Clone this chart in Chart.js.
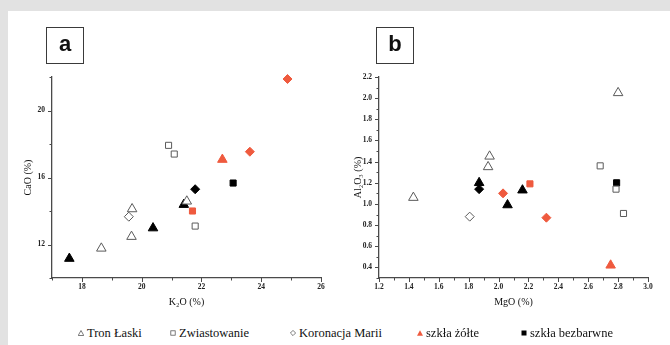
<!DOCTYPE html>
<html lang="pl">
<head>
    <meta charset="UTF-8">
    <title>Skład szkieł: K2O-CaO i MgO-Al2O3</title>
    <script src="https://cdn.jsdelivr.net/npm/chart.js"></script>
    <style>
        body {
            margin: 0;
            width: 670px;
            height: 345px;
            background: #e2e2e2;
            position: relative;
            overflow: hidden;
            font-family: "Liberation Serif", "Times New Roman", serif;
        }
        #sheet {
            position: absolute;
            left: 8px;
            top: 11px;
            right: 0;
            bottom: 0;
            background: #fff;
        }
        .panel { position: absolute; top: 0; height: 300px; }
        #panelA { left: 0; width: 330px; }
        #panelB { left: 327px; width: 335px; }
        .tag {
            position: absolute;
            top: 16px;
            width: 36px;
            height: 35px;
            border: 1.5px solid #3a3a3a;
            font: bold 22px "Liberation Sans", Arial, sans-serif;
            text-align: center;
            line-height: 32px;
            color: #111;
        }
        #legend span.item {
            position: absolute;
            top: 315px;
            font-family: "Liberation Serif", "Times New Roman", serif;
            font-size: 12.5px;
            color: #111;
            white-space: nowrap;
        }
        #legend svg { vertical-align: 1px; margin-right: 3px; }
    </style>
</head>
<body>
    <div id="sheet">
        <div class="panel" id="panelA"><canvas id="chartA" width="330" height="300"></canvas></div>
        <div class="panel" id="panelB"><canvas id="chartB" width="335" height="300"></canvas></div>
        <div class="tag" style="left:38px">a</div>
        <div class="tag" style="left:368px">b</div>
        <div id="legend"></div>
    </div>

    <script>
        // panel a: K2O (x) vs CaO (y), [x, y] pairs
        const tronA = [[18.65, 11.77], [19.66, 12.47], [19.68, 14.12], [21.51, 14.58]];
        const zwiaA = [[20.9, 17.92], [21.09, 17.4], [21.79, 13.1]];
        const koroA = [[19.57, 13.66]];
        const zolteTriA = [[22.7, 17.07]];
        const zolteDiaA = [[24.88, 21.88], [23.62, 17.54]];
        const zolteSqA = [[21.7, 14.0]];
        const bezTriA = [[17.58, 11.16], [20.38, 12.98], [21.41, 14.38]];
        const bezDiaA = [[21.79, 15.3]];
        const bezSqA = [[23.06, 15.67]];

        // panel b: MgO (x) vs Al2O3 (y)
        const tronB = [[1.43, 1.06], [1.93, 1.35], [1.94, 1.45], [2.80, 2.05]];
        const zwiaB = [[2.68, 1.36], [2.786, 1.14], [2.836, 0.91]];
        const koroB = [[1.807, 0.88]];
        const zolteTriB = [[2.75, 0.42]];
        const zolteDiaB = [[2.03, 1.10], [2.32, 0.87]];
        const zolteSqB = [[2.21, 1.19]];
        const bezTriB = [[1.87, 1.20], [2.06, 0.99], [2.16, 1.13]];
        const bezDiaB = [[1.87, 1.14]];
        const bezSqB = [[2.79, 1.20]];

        // tick values
        const k2oTicks = [17, 18, 19, 20, 21, 22, 23, 24, 25, 26];
        const caoTicks = [10, 12, 14, 16, 18, 20, 22];
        const mgoTicks = [1.2, 1.3, 1.4, 1.5, 1.6, 1.7, 1.8, 1.9, 2.0, 2.1, 2.2, 2.3, 2.4, 2.5, 2.6, 2.7, 2.8, 2.9, 3.0];
        const al2o3Ticks = [0.3, 0.4, 0.5, 0.6, 0.7, 0.8, 0.9, 1.0, 1.1, 1.2, 1.3, 1.4, 1.5, 1.6, 1.7, 1.8, 1.9, 2.0, 2.1, 2.2];

        const legendLabels = ['Tron Łaski', 'Zwiastowanie', 'Koronacja Marii', 'szkła żółte', 'szkła bezbarwne'];

        const RED = '#ef5a3e';
        const GREY = '#5a5a5a';

        function open(style) { return { pointStyle: style, backgroundColor: '#fff', borderColor: GREY, borderWidth: 1 }; }
        function filled(style, color) { return { pointStyle: style, backgroundColor: color, borderColor: color, borderWidth: 1 }; }
        const radius = { triangle: 5.5, rect: 4.3, rectRot: 4.5 };

        function buildSets(groups) {
            return groups.map(([pts, look]) => ({
                data: pts.map(([x, y]) => ({ x, y })),
                ...look,
                pointRadius: radius[look.pointStyle],
                showLine: false,
                clip: false
            }));
        }

        // tick marks, long on labelled ticks, short on the rest
        const tickMarks = {
            id: 'tickMarks',
            afterDraw(chart) {
                const ctx = chart.ctx;
                const xs = chart.scales.x, ys = chart.scales.y;
                ctx.save();
                ctx.strokeStyle = '#4a4a4a';
                ctx.lineWidth = 1;
                ctx.beginPath();
                xs.ticks.forEach(t => {
                    const px = Math.round(xs.getPixelForValue(t.value)) + 0.5;
                    const len = t.label !== '' ? 4 : 2.5;
                    ctx.moveTo(px, xs.top); ctx.lineTo(px, xs.top + len);
                });
                ys.ticks.forEach(t => {
                    const py = Math.round(ys.getPixelForValue(t.value)) + 0.5;
                    const len = t.label !== '' ? 4 : 2.5;
                    ctx.moveTo(ys.right, py); ctx.lineTo(ys.right - len, py);
                });
                ctx.stroke();
                ctx.restore();
            }
        };

        function makeChart(id, datasets, xCfg, yCfg, padRight, yTitlePad) {
            const tickFont = { family: '"Liberation Serif", serif', size: 7.5, weight: 'bold' };
            const titleFont = { family: '"Liberation Serif", serif', size: 10 };
            return new Chart(document.getElementById(id), {
                type: 'scatter',
                data: { datasets },
                plugins: [tickMarks],
                options: {
                    responsive: false,
                    animation: false,
                    layout: { padding: { top: 66, right: padRight, left: 0, bottom: 0 } },
                    plugins: { legend: { display: false }, tooltip: { enabled: false } },
                    scales: {
                        x: {
                            type: 'linear',
                            min: xCfg.ticks[0],
                            max: xCfg.ticks[xCfg.ticks.length - 1],
                            afterBuildTicks: s => { s.ticks = xCfg.ticks.map(v => ({ value: v })); },
                            afterFit: s => { s.height = 33; },
                            grid: { display: true, drawOnChartArea: false, drawTicks: false },
                            border: { display: true, color: '#4a4a4a', width: 1.3 },
                            ticks: {
                                autoSkip: false, maxRotation: 0, padding: 5, color: '#222', font: tickFont,
                                callback: xCfg.label
                            },
                            title: { display: true, text: xCfg.title, color: '#111', font: titleFont, padding: { top: 0, bottom: 3 } }
                        },
                        y: {
                            type: 'linear',
                            min: yCfg.ticks[0],
                            max: yCfg.ticks[yCfg.ticks.length - 1],
                            afterBuildTicks: s => { s.ticks = yCfg.ticks.map(v => ({ value: v })); },
                            afterFit: s => { s.width = 44; },
                            grid: { display: true, drawOnChartArea: false, drawTicks: false },
                            border: { display: true, color: '#4a4a4a', width: 1.3 },
                            ticks: {
                                autoSkip: false, padding: 7, color: '#222', font: tickFont,
                                callback: yCfg.label
                            },
                            title: { display: true, text: yCfg.title, color: '#111', font: titleFont, padding: { top: yTitlePad, bottom: 0 } }
                        }
                    }
                }
            });
        }

        makeChart('chartA', buildSets([
            [tronA, open('triangle')], [zwiaA, open('rect')], [koroA, open('rectRot')],
            [zolteTriA, filled('triangle', RED)], [zolteDiaA, filled('rectRot', RED)], [zolteSqA, filled('rect', RED)],
            [bezTriA, filled('triangle', '#000')], [bezDiaA, filled('rectRot', '#000')], [bezSqA, filled('rect', '#000')]
        ]), {
            ticks: k2oTicks, title: 'K₂O (%)',
            label: v => (v % 2 === 0 ? String(v) : '')
        }, {
            ticks: caoTicks, title: 'CaO (%)',
            label: v => (v % 4 === 0 ? String(v) : '')
        }, 17, 14);

        makeChart('chartB', buildSets([
            [tronB, open('triangle')], [zwiaB, open('rect')], [koroB, open('rectRot')],
            [zolteTriB, filled('triangle', RED)], [zolteDiaB, filled('rectRot', RED)], [zolteSqB, filled('rect', RED)],
            [bezTriB, filled('triangle', '#000')], [bezDiaB, filled('rectRot', '#000')], [bezSqB, filled('rect', '#000')]
        ]), {
            ticks: mgoTicks, title: 'MgO (%)',
            label: v => (Math.round(v * 10) % 2 === 0 ? v.toFixed(1) : '')
        }, {
            ticks: al2o3Ticks, title: 'Al₂O₃ (%)',
            label: v => (Math.round(v * 10) % 2 === 0 ? v.toFixed(1) : '')
        }, 22, 17);

        // legend under both panels
        const legendMarks = [
            '<polygon points="3,0.5 5.8,5.5 0.2,5.5" fill="#fff" stroke="' + GREY + '" stroke-width="0.8"/>',
            '<rect x="0.8" y="0.8" width="4.4" height="4.4" fill="#fff" stroke="' + GREY + '" stroke-width="0.8"/>',
            '<polygon points="3,0.4 5.6,3 3,5.6 0.4,3" fill="#fff" stroke="' + GREY + '" stroke-width="0.8"/>',
            '<polygon points="3,0.3 6,5.7 0,5.7" fill="' + RED + '"/>',
            '<rect x="0.5" y="0.5" width="5" height="5" fill="#000"/>'
        ];
        const legendLeft = [70, 162, 282, 409, 513];
        const legend = document.getElementById('legend');
        legendLabels.forEach((label, i) => {
            const item = document.createElement('span');
            item.className = 'item';
            item.style.left = legendLeft[i] + 'px';
            item.innerHTML = '<svg width="6" height="6" viewBox="0 0 6 6">' + legendMarks[i] + '</svg>' + label;
            legend.appendChild(item);
        });
    </script>
</body>
</html>
